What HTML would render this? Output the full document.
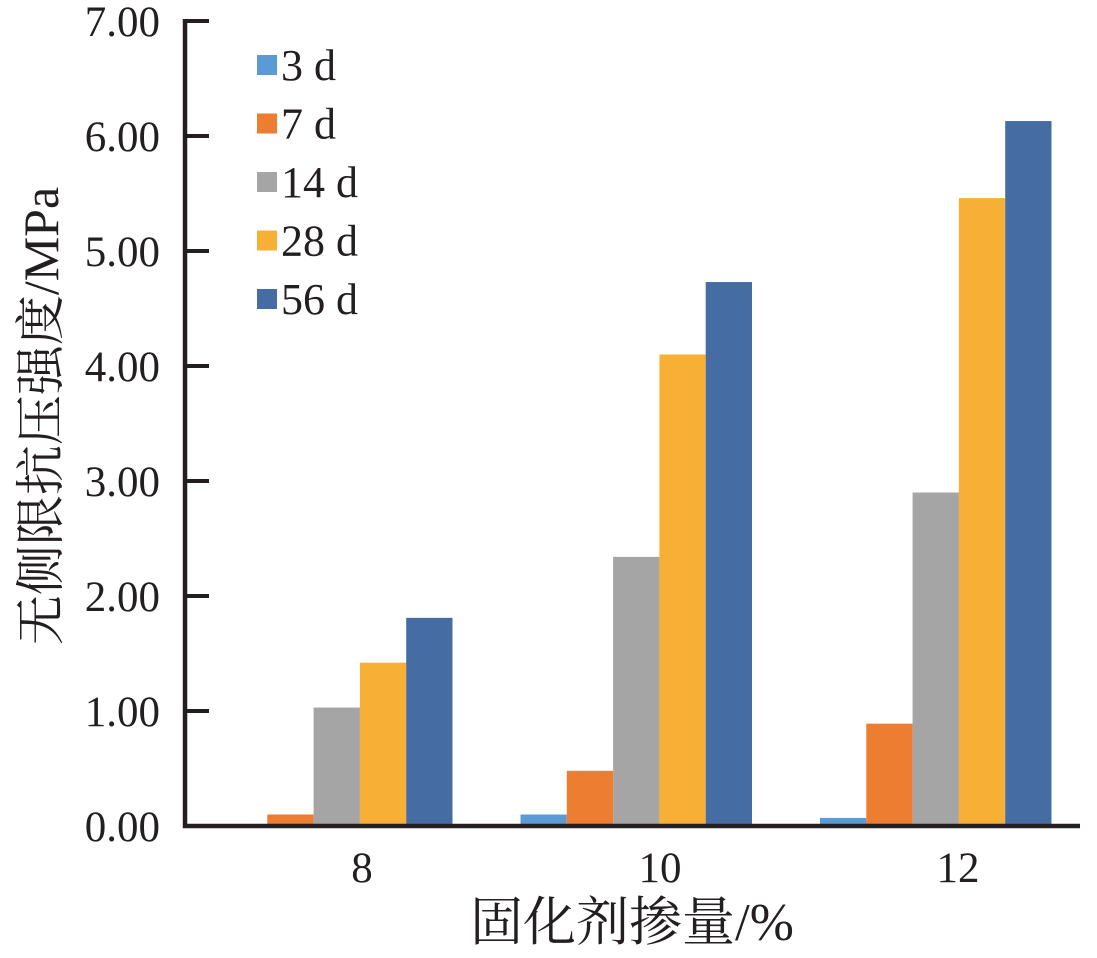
<!DOCTYPE html>
<html><head><meta charset="utf-8"><style>
body{margin:0;background:#fff;}
svg text{font-family:"Liberation Serif","Noto Serif CJK SC",serif;fill:#231f20;}
</style></head><body>
<svg width="1097" height="953">
<g id="bars"></g>
<g id="axes"></g>
<g id="legend"></g>
<text x="58" y="416" font-size="50" text-anchor="middle" transform="rotate(-90 58 416)">无侧限抗压强度/MPa</text>
<text x="632" y="940" font-size="53" text-anchor="middle">固化剂掺量/%</text>
</svg>
<script>
const categories=["8","10","12"];
const seriesNames=["3 d","7 d","14 d","28 d","56 d"];
const colors=["#5b9bd5","#ed7d31","#a5a5a5","#f7b035","#466ca4"];
const s3=[0.0,0.10,0.07];
const s7=[0.10,0.48,0.89];
const s14=[1.03,2.34,2.90];
const s28=[1.42,4.10,5.46];
const s56=[1.81,4.73,6.13];
const yTicks=[0,1,2,3,4,5,6,7];
const series=[s3,s7,s14,s28,s56];
const NS="http://www.w3.org/2000/svg";
const x0=185,x1=1080,y0=826,yTop=21,yMax=7;
const y=v=>y0-(v/yMax)*(y0-yTop);
const gw=299.5,bw=46.3,barStart=221,labelStart=362;
function mk(t,a,p){const e=document.createElementNS(NS,t);for(const k in a)e.setAttribute(k,a[k]);p.appendChild(e);return e;}
const bars=document.getElementById('bars'),axes=document.getElementById('axes'),leg=document.getElementById('legend');
categories.forEach((c,i)=>{
 series.forEach((s,j)=>{
  const r=mk('rect',{x:barStart+i*gw+j*bw,y:y(s[i]),width:bw,height:y0-y(s[i]),fill:colors[j]},bars);
  
  
 });
 const t=mk('text',{x:labelStart+i*298,y:882,'font-size':43,'text-anchor':'middle'},axes);
 t.textContent=c;
 
 
});
yTicks.forEach(v=>{
 const l=mk('line',{x1:x0,x2:209,y1:y(v),y2:y(v),stroke:'#231f20','stroke-width':4},axes);
 
 
 const t=mk('text',{x:160,y:y(v)+15,'font-size':43,'text-anchor':'end'},axes);
 t.textContent=v.toFixed(2);
 
 
});
const ya=mk('line',{x1:x0,x2:x0,y1:yTop-2,y2:y0+2,stroke:'#231f20','stroke-width':4.5},axes);


const xa=mk('line',{x1:x0-2,x2:x1,y1:y0,y2:y0,stroke:'#231f20','stroke-width':4.5},axes);


seriesNames.forEach((n,j)=>{
 const cy=65+j*58.5;
 const r=mk('rect',{x:257,y:cy-10,width:20,height:20,fill:colors[j]},leg);
 
 
 const t=mk('text',{x:281,y:cy+15,'font-size':44},leg);
 t.textContent=n;
 
 
});
</script>
</body></html>
